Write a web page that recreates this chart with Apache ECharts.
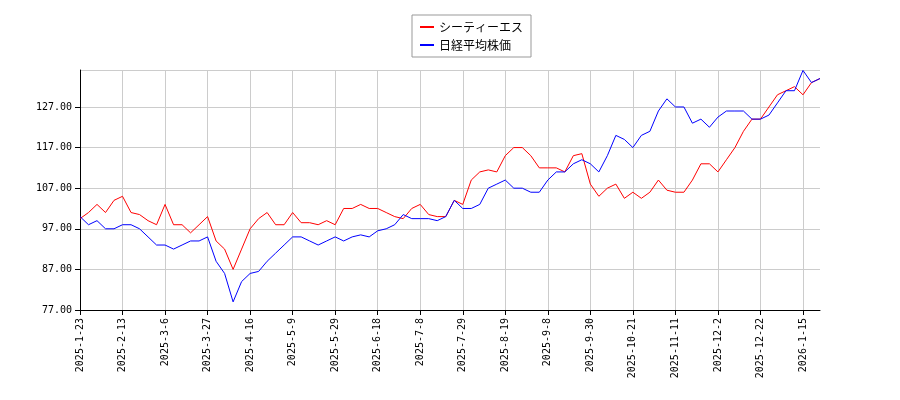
<!DOCTYPE html>
<html>
<head>
<meta charset="utf-8">
<script src="https://cdn.jsdelivr.net/npm/echarts@6/dist/echarts.min.js"></script>
<style>body{margin:0;background:#fff}#main{width:900px;height:400px}</style>
</head>
<body>
<div id="main"></div>
<script>
// 目盛りの日付（3営業日ごとのデータ点、5点ごとにラベル）
var tickLabels = ['2025-1-23','2025-2-13','2025-3-6','2025-3-27','2025-4-16','2025-5-9','2025-5-29','2025-6-18',
  '2025-7-8','2025-7-29','2025-8-19','2025-9-8','2025-9-30','2025-10-21','2025-11-11','2025-12-2','2025-12-22','2026-1-15'];

var ctsValues = [99.5,101,103,101,104,105,101,100.5,99,98,103,98,98,96,98,100,94,92,87,92,
  97,99.5,101,98,98,101,98.5,98.5,98,99,98,102,102,103,102,102,101,100,99.5,102,
  103,100.5,100,100,104,103,109,111,111.5,111,115,117,117,115,112,112,112,111,115,115.5,
  108,105,107,108,104.5,106,104.5,106,109,106.5,106,106,109,113,113,111,114,117,121,124,
  124,127,130,131,132,130,133,134];

var nikkeiValues = [100,98,99,97,97,98,98,97,95,93,93,92,93,94,94,95,89,86,79,84,
  86,86.5,89,91,93,95,95,94,93,94,95,94,95,95.5,95,96.5,97,98,100.5,99.5,
  99.5,99.5,99,100,104,102,102,103,107,108,109,107,107,106,106,109,111,111,113,114,
  113,111,115,120,119,117,120,121,126,129,127,127,123,124,122,124.5,126,126,126,124,
  124,125,128,131,131,136,133,134];

var categories = [];
for (var i = 0; i < ctsValues.length; i++) {
  categories.push(i % 5 === 0 ? tickLabels[i / 5] : '');
}

var myChart = echarts.init(document.getElementById('main'));
var option = {
  animation: false,
  textStyle: {fontFamily: 'DejaVu Sans'},
  legend: {
    top: 15, left: 412, orient: 'vertical',
    itemWidth: 14, itemHeight: 2, itemGap: 6,
    padding: [6, 8],
    borderColor: '#999', borderWidth: 1, borderRadius: 0,
    textStyle: {fontSize: 12, color: '#000', fontFamily: 'Noto Sans CJK JP'},
    data: [{name: 'シーティーエス', icon: 'rect'}, {name: '日経平均株価', icon: 'rect'}]
  },
  grid: {left: 80, right: 80, top: 70, bottom: 90},
  xAxis: {
    type: 'category', data: categories, boundaryGap: false,
    axisLine: {lineStyle: {color: '#000'}},
    axisTick: {interval: 4, lineStyle: {color: '#000'}},
    axisLabel: {interval: 4, rotate: 90, color: '#000', fontSize: 10, fontFamily: 'DejaVu Sans Mono'},
    splitLine: {show: true, interval: 4, lineStyle: {color: '#ccc'}}
  },
  yAxis: {
    type: 'value', min: 77, max: 136.1, interval: 10,
    axisLine: {show: true, lineStyle: {color: '#000'}},
    axisTick: {show: true, lineStyle: {color: '#000'}},
    axisLabel: {color: '#000', fontSize: 10, showMaxLabel: false, fontFamily: 'DejaVu Sans Mono',
      formatter: function (v) { return v.toFixed(2); }},
    splitLine: {lineStyle: {color: '#ccc'}}
  },
  series: [
    {name: 'シーティーエス', type: 'line', data: ctsValues, showSymbol: false,
      lineStyle: {color: '#ff0000', width: 1}, itemStyle: {color: '#ff0000'}},
    {name: '日経平均株価', type: 'line', data: nikkeiValues, showSymbol: false,
      lineStyle: {color: '#0000ff', width: 1}, itemStyle: {color: '#0000ff'}}
  ]
};
myChart.setOption(option);
</script>
</body>
</html>
